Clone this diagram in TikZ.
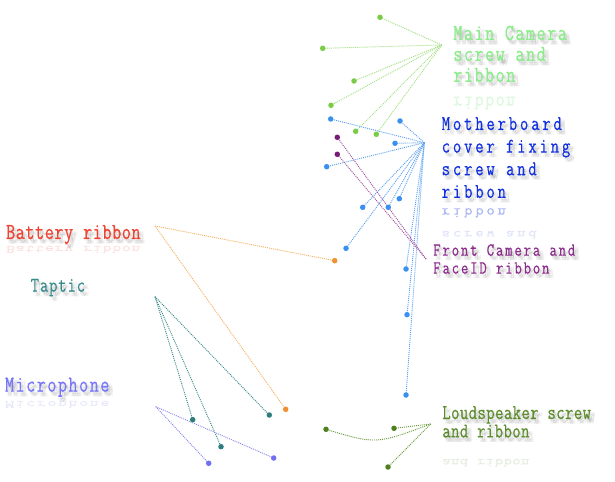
\documentclass[tikz,border=0pt]{standalone}
\usepackage{graphicx}
\usepackage{fontspec}
\setmonofont{Latin Modern Mono}
\definecolor{mcline}{HTML}{A0E080}
\definecolor{mcdot}{HTML}{7ACC44}
\definecolor{mctext}{HTML}{8CEC8C}
\definecolor{mbline}{HTML}{5AA0F0}
\definecolor{mbdot}{HTML}{3A90F0}
\definecolor{mbtext}{HTML}{1030E0}
\definecolor{fcline}{HTML}{A050A0}
\definecolor{fcdot}{HTML}{771C77}
\definecolor{fctext}{HTML}{8B2B8B}
\definecolor{bline}{HTML}{F5B060}
\definecolor{bdot}{HTML}{F09030}
\definecolor{btext}{HTML}{EE4433}
\definecolor{tline}{HTML}{3A8A8A}
\definecolor{tdot}{HTML}{2E7D7D}
\definecolor{ttext}{HTML}{3A8C8C}
\definecolor{miline}{HTML}{8888F0}
\definecolor{midot}{HTML}{7070F0}
\definecolor{mitext}{HTML}{7777F8}
\definecolor{lline}{HTML}{6A9A3A}
\definecolor{ldot}{HTML}{4E8020}
\definecolor{ltext}{HTML}{5C8C2C}
\newcommand\lblines[2]{\scalebox{#1}[1]{\begin{tabular}[t]{@{}l@{}}#2\end{tabular}}}
\newcommand\shadowlabel[5]{%
  \foreach \dx/\dy [count=\i] in {1.5/2,3/3.5,4.5/4.5,2/4.5,4.5/2.5}{%
    \node[lbl,#4,text=black,text opacity=0.045] (#1-s\i) at (#2+\dx,#3+\dy) {#5};}
  \node[lbl,#4] (#1) at (#2,#3) {#5};}
\newcommand\lmfont[3]{\ttfamily\fontsize{#1}{#2}\selectfont\addfontfeature{LetterSpace=#3,FakeBold=0.5}}
\begin{document}
\begin{tikzpicture}[x=1bp,y=-1bp,
  lbl/.style={anchor=base west, inner sep=0pt, outer sep=0pt},
  mcfont/.style={font=\lmfont{23}{21}{7.7}, text=mctext},
  mbfont/.style={font=\lmfont{21}{22.7}{17}, text=mbtext},
  fcfont/.style={font=\lmfont{18.5}{18}{12.6}, text=fctext},
  bfont/.style={font=\lmfont{23}{21}{2.7}, text=btext},
  tfont/.style={font=\lmfont{21}{21}{4.9}, text=ttext},
  mifont/.style={font=\lmfont{23}{21}{7.7}, text=mitext},
  lfont/.style={font=\lmfont{21}{18.5}{2.4}, text=ltext},
  dotn/.style={circle, inner sep=0pt, minimum size=5.5bp},
  link/.style={line width=0.9bp, dash pattern=on 1bp off 1bp},
]
\useasboundingbox[fill=white] (0,0) rectangle (615,482);

% ---------- coordinates ----------
\coordinate (mch) at (441.7,45);
\coordinate (mc1) at (380,17.3);
\coordinate (mc2) at (322.7,48.3);
\coordinate (mc3) at (354,81);
\coordinate (mc4) at (331,105.3);
\coordinate (mc5) at (355.7,131.3);
\coordinate (mc6) at (376.3,134.3);

\coordinate (mbh) at (424.3,142.7);
\coordinate (mb1) at (330.7,119);
\coordinate (mb2) at (400,121);
\coordinate (mb3) at (395,143.3);
\coordinate (mb4) at (326.7,166.7);
\coordinate (mb5) at (362.7,207.3);
\coordinate (mb6) at (388.3,207.3);
\coordinate (mb7) at (399.3,198.7);
\coordinate (mb8) at (346,248.3);
\coordinate (mb9) at (406,269);
\coordinate (mb10) at (407,314.7);
\coordinate (mb11) at (406,395);

\coordinate (fch) at (426,259);
\coordinate (fc1) at (337.3,137.3);
\coordinate (fc2) at (337.3,154.3);

\coordinate (bh) at (155,226);
\coordinate (b1) at (334.7,260.7);
\coordinate (b2) at (285.7,409.3);

\coordinate (th) at (155,296.7);
\coordinate (t1) at (192.7,419.7);
\coordinate (t2) at (221,446.7);
\coordinate (t3) at (269.3,415);

\coordinate (mih) at (155.7,406.7);
\coordinate (mi1) at (208.7,463.3);
\coordinate (mi2) at (273.7,458);

\coordinate (lh) at (430.7,424);
\coordinate (l1) at (326,429.3);
\coordinate (l2) at (394,428.3);
\coordinate (l3) at (388,467);

% ---------- connectors ----------
\foreach \p in {mc1,mc2,mc3,mc4,mc5,mc6} \draw[link,mcline] (mch) -- (\p);
\foreach \p in {mb1,mb2,mb3,mb4,mb5,mb6,mb7,mb8,mb9,mb10,mb11} \draw[link,mbline] (mbh) -- (\p);
\foreach \p in {fc1,fc2} \draw[link,fcline] (fch) -- (\p);
\foreach \p in {b1,b2} \draw[link,bline] (bh) -- (\p);
\foreach \p in {t1,t2,t3} \draw[link,tline] (th) -- (\p);
\foreach \p in {mi1,mi2} \draw[link,miline] (mih) -- (\p);
\draw[link,lline] (lh) .. controls (376,444.4) .. (l1);
\foreach \p in {l2,l3} \draw[link,lline] (lh) -- (\p);

% ---------- dots ----------
\foreach \p in {mc1,mc2,mc3,mc4,mc5,mc6} \node[dotn,fill=mcdot] (\p-d) at (\p) {};
\foreach \p in {mb1,mb2,mb3,mb4,mb5,mb6,mb7,mb8,mb9,mb10,mb11} \node[dotn,fill=mbdot] (\p-d) at (\p) {};
\foreach \p in {fc1,fc2} \node[dotn,fill=fcdot] (\p-d) at (\p) {};
\foreach \p in {b1,b2} \node[dotn,fill=bdot] (\p-d) at (\p) {};
\foreach \p in {t1,t2,t3} \node[dotn,fill=tdot] (\p-d) at (\p) {};
\foreach \p in {mi1,mi2} \node[dotn,fill=midot] (\p-d) at (\p) {};
\foreach \p in {l1,l2,l3} \node[dotn,fill=ldot] (\p-d) at (\p) {};

% ---------- reflections ----------
\node[lbl,mcfont,text opacity=0.25] (mcr) at (453.3,96.7) {\scalebox{0.78}[-0.9]{ribbon}};
\node[lbl,mbfont,text opacity=0.3] (mbr) at (441.7,208.3) {\scalebox{0.78}[-0.7]{ribbon}};
\node[lbl,mbfont,text opacity=0.1] (mbr2) at (441.7,231) {\scalebox{0.78}[-0.6]{screw and}};
\node[lbl,bfont,text opacity=0.12] (br) at (6,246) {\scalebox{0.78}[-0.5]{Battery ribbon}};
\node[lbl,mifont,text opacity=0.12] (mir) at (5,401) {\scalebox{0.78}[-0.5]{Microphone}};
\node[lbl,lfont,text opacity=0.12] (lr) at (442.3,459) {\scalebox{0.78}[-0.6]{and ribbon}};

% ---------- labels ----------
\shadowlabel{mct}{453.3}{40}{mcfont}{\lblines{0.78}{Main Camera\\screw and\\ribbon}}
\shadowlabel{mbt}{441.7}{130}{mbfont}{\lblines{0.78}{Motherboard\\cover fixing\\screw and\\ribbon}}
\shadowlabel{fct}{433.3}{255.7}{fcfont}{\lblines{0.78}{Front Camera and\\FaceID ribbon}}
\shadowlabel{bt}{6}{239}{bfont}{\lblines{0.78}{Battery ribbon}}
\shadowlabel{tt}{30.7}{291.7}{tfont}{\lblines{0.78}{Taptic}}
\shadowlabel{mit}{5}{391.7}{mifont}{\lblines{0.78}{Microphone}}
\shadowlabel{lt}{442.3}{419}{lfont}{\lblines{0.78}{Loudspeaker screw\\and ribbon}}
\end{tikzpicture}
\end{document}
